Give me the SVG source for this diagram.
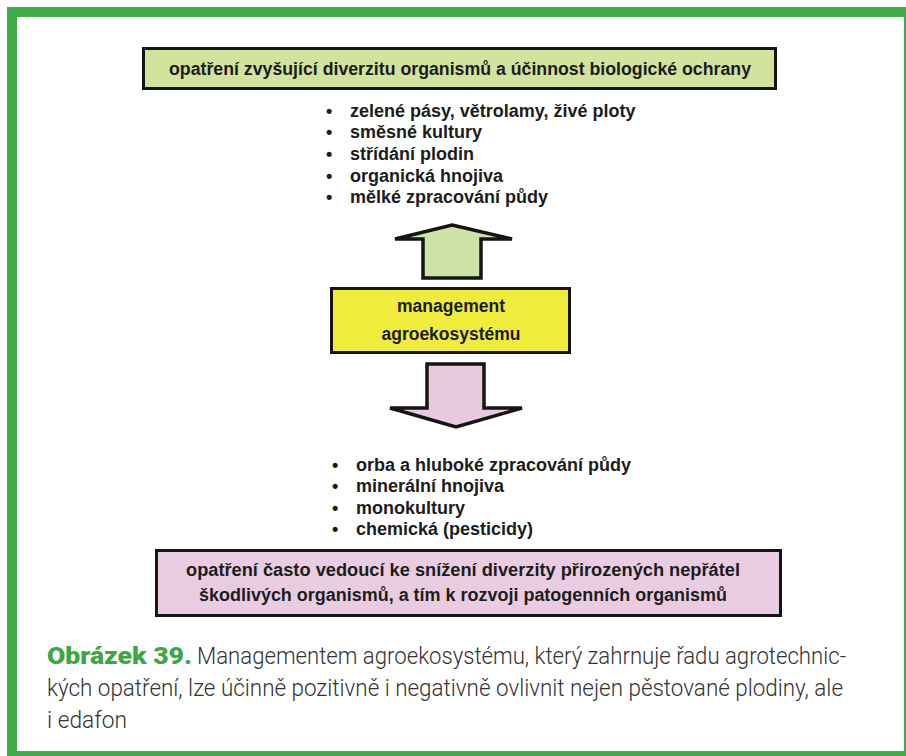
<svg xmlns="http://www.w3.org/2000/svg" width="906" height="756" viewBox="0 0 906 756">
  <style>
    .box { stroke: #151515; stroke-width: 3; }
    .arrow { stroke: #151515; stroke-width: 3.5; stroke-linejoin: miter; }
    .t { font-family: "Liberation Sans", Arial, sans-serif; font-weight: bold; fill: #1c1c1c; }
    .item { font-size: 18px; }
    .mid { font-size: 17.5px; }
    .head { font-size: 17.5px; }
    .cap { font-family: Roboto, "Open Sans", sans-serif; font-weight: 300; font-size: 23px; fill: #333333; }
    .capb { font-family: Roboto, "Open Sans", sans-serif; font-weight: 900; font-size: 23px; fill: #3da646; }
  </style>

  <!-- page frame -->
  <rect x="7" y="7" width="899" height="749" fill="#41ad4a"/>
  <rect x="17" y="17" width="887" height="734" fill="#ffffff"/>

  <!-- top box: measures raising diversity -->
  <g id="node-positive">
    <rect class="box" x="143.5" y="48.5" width="632" height="40" fill="#d2e39e"/>
    <text class="t head" x="460" y="74.5" text-anchor="middle" textLength="582" lengthAdjust="spacingAndGlyphs">opatření zvyšující diverzitu organismů a účinnost biologické ochrany</text>
  </g>

  <!-- positive measures list -->
  <g id="list-positive" class="t item">
    <text x="326" y="117">•</text><text x="350" y="117">zelené pásy, větrolamy, živé ploty</text>
    <text x="326" y="138">•</text><text x="350" y="138">směsné kultury</text>
    <text x="326" y="160">•</text><text x="350" y="160">střídání plodin</text>
    <text x="326" y="182">•</text><text x="350" y="182">organická hnojiva</text>
    <text x="326" y="203">•</text><text x="350" y="203">mělké zpracování půdy</text>
  </g>

  <!-- central box -->
  <g id="node-management">
    <rect class="box" x="331.5" y="288.5" width="238" height="64" fill="#efec3c"/>
    <text class="t mid" x="451" y="312" text-anchor="middle">management</text>
    <text class="t mid" x="451" y="340" text-anchor="middle">agroekosystému</text>
  </g>

  <!-- connectors: block arrows -->
  <g id="connectors">
    <polygon class="arrow" points="452,225 512,239 481,239 481,278 423,278 423,239 395,239" fill="#cfe3a8"/>
    <polygon class="arrow" points="427,364 484,364 484,408 522,408 456,427 390,408 427,408" fill="#e9c9e0"/>
  </g>

  <!-- negative measures list -->
  <g id="list-negative" class="t item">
    <text x="332" y="471">•</text><text x="356" y="471">orba a hluboké zpracování půdy</text>
    <text x="332" y="492">•</text><text x="356" y="492">minerální hnojiva</text>
    <text x="332" y="514">•</text><text x="356" y="514">monokultury</text>
    <text x="332" y="535">•</text><text x="356" y="535">chemická (pesticidy)</text>
  </g>

  <!-- bottom box: measures reducing diversity -->
  <g id="node-negative">
    <rect class="box" x="156.5" y="550.5" width="624" height="65" fill="#e9cce2"/>
    <text class="t head" x="463" y="575.5" text-anchor="middle" textLength="554" lengthAdjust="spacingAndGlyphs">opatření často vedoucí ke snížení diverzity přirozených nepřátel</text>
    <text class="t head" x="463" y="600.5" text-anchor="middle" textLength="528" lengthAdjust="spacingAndGlyphs">škodlivých organismů, a tím k rozvoji patogenních organismů</text>
  </g>

  <!-- caption -->
  <g id="caption">
    <text class="capb" x="47" y="664" textLength="145" lengthAdjust="spacingAndGlyphs">Obrázek 39.</text>
    <text class="cap" x="197" y="664" textLength="649" lengthAdjust="spacingAndGlyphs">Managementem agroekosystému, který zahrnuje řadu agrotechnic-</text>
    <text class="cap" x="47" y="696" textLength="796" lengthAdjust="spacingAndGlyphs">kých opatření, lze účinně pozitivně i negativně ovlivnit nejen pěstované plodiny, ale</text>
    <text class="cap" x="47" y="728" textLength="80" lengthAdjust="spacingAndGlyphs">i edafon</text>
  </g>
</svg>
